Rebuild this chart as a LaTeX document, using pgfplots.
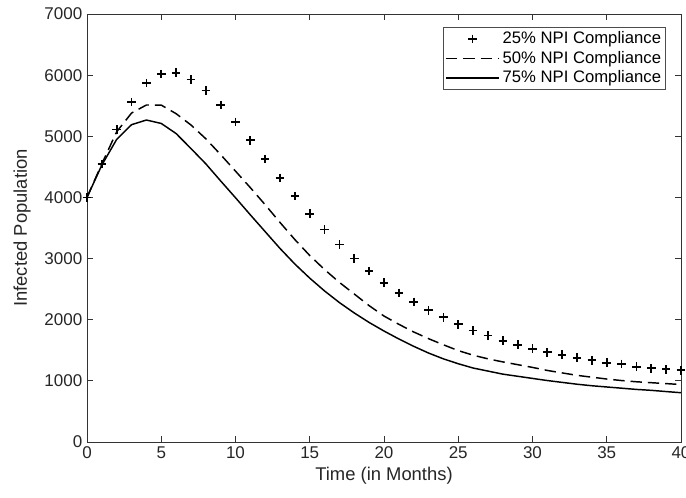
\documentclass[border=0pt]{standalone}
\usepackage{pgfplots}
\pgfplotsset{compat=1.18}
\usepackage{fontspec}
\setmainfont{Liberation Sans}

\pgfplotsset{
  long legend/.style={
    legend image code/.code={\draw[mark repeat=2,mark phase=2,##1] plot coordinates {(0pt,0pt)(20pt,0pt)(40pt,0pt)};}},
}

% infected population, one row per month
\pgfplotstableread{
t   low   mid   high
0   4000  4000  4000
1   4550  4550  4530
2   5110  5075  4950
3   5560  5380  5190
4   5870  5512  5266
5   6020  5510  5210
6   6040  5370  5045
7   5930  5185  4800
8   5750  4960  4550
9   5510  4700  4270
10  5235  4430  3995
11  4935  4160  3715
12  4625  3880  3440
13  4320  3590  3165
14  4020  3310  2910
15  3735  3050  2680
16  3475  2820  2470
17  3230  2610  2280
18  3000  2420  2110
19  2795  2230  1955
20  2605  2060  1815
21  2440  1925  1685
22  2290  1800  1565
23  2155  1690  1455
24  2040  1590  1360
25  1925  1495  1280
26  1825  1420  1210
27  1740  1360  1160
28  1657  1310  1110
29  1592  1265  1075
30  1526  1220  1040
31  1467  1170  1005
32  1428  1130  975
33  1379  1090  945
34  1336  1060  920
35  1297  1030  900
36  1276  1005  880
37  1232  985   860
38  1205  970   845
39  1189  955   825
40  1173  940   806
}\infected

\begin{document}
\begin{tikzpicture}
\begin{axis}[
  at={(0,0)}, anchor=south west,
  scale only axis, width=445.5pt, height=321pt,
  xmin=0, xmax=40, ymin=0, ymax=7000,
  xtick={0,5,...,40}, ytick={0,1000,...,7000},
  tick align=inside, major tick length=4.5pt,
  axis line style={black!80, line width=0.6pt}, tick style={black!80, line width=0.6pt},
  /pgf/number format/assume math mode=true,
  /pgf/number format/1000 sep={},
  tick label style={font=\fontsize{12.75}{15}\selectfont, text=black!85},
  label style={font=\fontsize{13.8}{16}\selectfont, text=black!85},
  xlabel={Time (in Months)},
  ylabel={Infected Population},
  xlabel style={at={(axis description cs:0.5,-0.091)}, anchor=base},
  ylabel style={at={(axis description cs:-0.1094,0.5)}, anchor=center},
  legend style={at={(0.975,0.97)}, anchor=north east,
    font=\fontsize{12.5}{14}\selectfont, draw=black!70, line width=0.6pt,
    row sep=0pt, inner sep=1.5pt, cells={anchor=west}},
]
\addplot[only marks, mark=+, mark size=3.2pt, mark options={line width=1.3pt}, black, long legend] table[x=t, y=low] {\infected};
\addlegendentry{25\% NPI Compliance}
\addplot[black, line width=1.1pt, dash pattern=on 8.5pt off 4.5pt, long legend] table[x=t, y=mid] {\infected};
\addlegendentry{50\% NPI Compliance}
\addplot[black, line width=1.1pt, long legend] table[x=t, y=high] {\infected};
\addlegendentry{75\% NPI Compliance}
\end{axis}
\pgfresetboundingbox
\path[use as bounding box] (-65.25pt,-41.25pt) rectangle (449.25pt,331.5pt);
\end{tikzpicture}
\end{document}
